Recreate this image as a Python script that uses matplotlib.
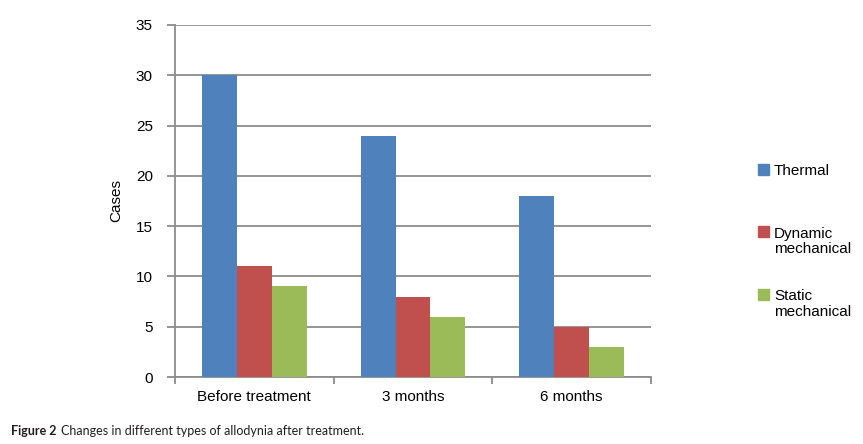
import matplotlib.pyplot as plt
from matplotlib.patches import Rectangle

# data
categories = ['Before treatment', '3 months', '6 months']
series = ['Thermal', 'Dynamic\nmechanical', 'Static\nmechanical']
thermal = [30, 24, 18]
dynamic = [11, 8, 5]
static = [9, 6, 3]
values = [thermal, dynamic, static]
colors = ['#4F81BD', '#C0504D', '#9BBB59']
yticks = [0, 5, 10, 15, 20, 25, 30, 35]

plt.rcParams['font.family'] = ['Liberation Sans', 'DejaVu Sans']
grid_col = '#8C8C8C'
fs = 11

fig = plt.figure(figsize=(8.63, 4.44), dpi=100)
ax = fig.add_axes([175 / 863, 67 / 444, 476 / 863, 352 / 444])

width = 0.22
x = range(len(categories))
for i, (vals, col) in enumerate(zip(values, colors)):
    ax.bar([p + (i - 1) * width for p in x], vals, width, color=col,
           linewidth=0, zorder=3)

ax.set_xlim(-0.5, len(categories) - 0.5)
ax.set_ylim(0, 35)
ax.set_yticks(yticks)
ax.yaxis.grid(True, color=grid_col, linewidth=1.3, zorder=0)
ax.tick_params(axis='y', length=5.5, width=1.3, color=grid_col, labelsize=fs, pad=10.5)

# category boundaries as tick marks, names centred between them
ax.set_xticks([p - 0.5 for p in range(len(categories) + 1)])
ax.set_xticklabels([])
ax.set_xticks(list(x), minor=True)
ax.set_xticklabels(categories, minor=True)
ax.tick_params(axis='x', which='major', length=5, width=1.3, color=grid_col)
ax.tick_params(axis='x', which='minor', length=0, labelsize=fs, pad=9)

for s in ['top', 'right']:
    ax.spines[s].set_visible(False)
for s in ['left', 'bottom']:
    ax.spines[s].set_color(grid_col)
    ax.spines[s].set_linewidth(1.3)

ax.set_ylabel('Cases', fontsize=fs, labelpad=9)

# legend, each entry aligned to its first line like the original
for i, (name, col) in enumerate(zip(series, colors)):
    yc = 1 - (169.5 + 62.5 * i) / 444
    fig.patches.append(Rectangle((758 / 863, yc - 5.5 / 444), 11 / 863, 11 / 444,
                                 transform=fig.transFigure, color=col))
    fig.text(774 / 863, yc + 5.5 / 444, name, fontsize=fs, va='top', ha='left',
             linespacing=1.15)

# caption
cap1 = fig.text(11 / 863, 1 - 431 / 444, 'Figure 2', fontsize=9, fontweight='bold',
                family=['Lato', 'DejaVu Sans'], va='center', color='#231F20')
fig.canvas.draw()
bb = cap1.get_window_extent()
fig.text((bb.x1 + 4) / 863, 1 - 431 / 444,
         'Changes in different types of allodynia after treatment.', fontsize=9,
         family=['Lato', 'DejaVu Sans'], va='center', color='#231F20')

fig.savefig('out.png', dpi=100)
